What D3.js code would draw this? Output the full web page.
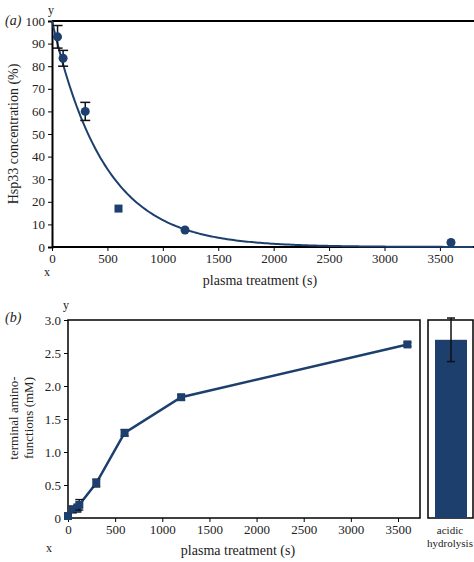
<!DOCTYPE html><html><head><script src="https://cdn.jsdelivr.net/npm/d3@7"></script>
<style>body{margin:0;background:#fff}text{font-family:"Liberation Serif",serif;fill:#222}</style></head><body>
<svg id="c" width="474" height="562"></svg>
<script>
const aX=[50,100,300,600,1200,3600];
const aY=[93,83.5,60,17,7.5,2];
const aErr=[5,3.5,4,0,0,0];
const aShape=["c","c","c","s","c","c"];
const aTicksY=[0,10,20,30,40,50,60,70,80,90,100];
const aTicksX=[0,500,1000,1500,2000,2500,3000,3500];
const bX=[0,50,100,120,300,600,1200,3600];
const bY=[0.03,0.13,0.15,0.2,0.53,1.29,1.83,2.63];
const bErr=[0.02,0.05,0.06,0.08,0.06,0.05,0.04,0.03];
const barLabel=["acidic","hydrolysis"], barVal=2.7, barErr=0.33;
const bTicksY=[0,0.5,1.0,1.5,2.0,2.5,3.0];
const tau=470;
const col="#1d3f6e";
const svg=d3.select("#c");
const ff='"Liberation Serif",serif';
const sty=g=>g.attr("font-family",ff).call(g=>g.selectAll("text").style("font-size","13px").style("fill","#222"));
// panel a
const xa=d3.scaleLinear().domain([0,3600]).range([52,451]);
const ya=d3.scaleLinear().domain([0,100]).range([247,21]);
const ga=svg.append("g");
ga.append("line").attr("x1",52).attr("x2",474).attr("y1",21).attr("y2",21).attr("stroke","#000").attr("stroke-width",2);
ga.append("g").attr("transform","translate(52,0)").call(d3.axisLeft(ya).tickValues(aTicksY).tickSize(4)).call(sty).call(g=>g.select(".domain").attr("stroke-width",2));
ga.append("g").attr("transform","translate(0,247)").call(d3.axisBottom(xa).tickValues(aTicksX).tickFormat(d3.format("d")).tickSize(4)).call(sty).call(g=>g.select(".domain").attr("d","M52,0H474").attr("stroke-width",2));
const cur=d3.range(0,3801,20).map(t=>[t,100*Math.exp(-t/tau)]);
ga.append("path").attr("d",d3.line().x(d=>xa(d[0])).y(d=>ya(d[1]))(cur)).attr("fill","none").attr("stroke",col).attr("stroke-width",2);
aX.forEach((x,i)=>{if(aErr[i]){const g=ga.append("g").attr("stroke","#111").attr("stroke-width",1.5);
g.append("line").attr("x1",xa(x)).attr("x2",xa(x)).attr("y1",ya(aY[i]+aErr[i])).attr("y2",ya(aY[i]-aErr[i]));
[1,-1].forEach(s=>g.append("line").attr("x1",xa(x)-5).attr("x2",xa(x)+5).attr("y1",ya(aY[i]+s*aErr[i])).attr("y2",ya(aY[i]+s*aErr[i])));}
if(aShape[i]=="s")ga.append("rect").attr("x",xa(x)-4).attr("y",ya(aY[i])-4).attr("width",8).attr("height",8).attr("fill",col);
else ga.append("circle").attr("cx",xa(x)).attr("cy",ya(aY[i])).attr("r",4.5).attr("fill",col);});
svg.append("text").attr("x",5).attr("y",25).style("font-size","14px").style("font-style","italic").text("(a)");
svg.append("text").attr("x",48).attr("y",14).style("font-size","12px").text("y");
svg.append("text").attr("x",44).attr("y",276).style("font-size","12px").text("x");
svg.append("text").attr("x",260).attr("y",285).attr("text-anchor","middle").style("font-size","14px").text("plasma treatment (s)");
svg.append("text").attr("transform","translate(18,134) rotate(-90)").attr("text-anchor","middle").style("font-size","14px").text("Hsp33 concentration (%)");
// panel b
const xb=d3.scaleLinear().domain([0,3500]).range([68,398]);
const yb=d3.scaleLinear().domain([0,3]).range([518,320]);
const gb=svg.append("g");
gb.append("rect").attr("x",68).attr("y",320).attr("width",352).attr("height",198).attr("fill","none").attr("stroke","#000").attr("stroke-width",1.5);
gb.append("g").attr("transform","translate(68,0)").call(d3.axisLeft(yb).tickValues(bTicksY).tickFormat(d=>d==0?"0":d3.format(".1f")(d)).tickSize(4)).call(sty).call(g=>g.select(".domain").remove());
gb.append("g").attr("transform","translate(0,518)").call(d3.axisBottom(xb).tickValues(aTicksX).tickFormat(d3.format("d")).tickSize(4)).call(sty).call(g=>g.select(".domain").remove());
gb.append("path").attr("d",d3.line().x((d,i)=>xb(bX[i])).y(d=>yb(d))(bY)).attr("fill","none").attr("stroke",col).attr("stroke-width",2.5);
bX.forEach((x,i)=>{const g=gb.append("g").attr("stroke","#111").attr("stroke-width",1.3);
g.append("line").attr("x1",xb(x)).attr("x2",xb(x)).attr("y1",yb(bY[i]+bErr[i])).attr("y2",yb(bY[i]-bErr[i]));
[1,-1].forEach(s=>g.append("line").attr("x1",xb(x)-4).attr("x2",xb(x)+4).attr("y1",yb(bY[i]+s*bErr[i])).attr("y2",yb(bY[i]+s*bErr[i])));
gb.append("rect").attr("x",xb(x)-4).attr("y",yb(bY[i])-4).attr("width",8).attr("height",8).attr("fill",col);});
gb.append("rect").attr("x",428).attr("y",320).attr("width",45).attr("height",198).attr("fill","none").attr("stroke","#000").attr("stroke-width",1.5);
gb.append("rect").attr("x",435).attr("y",yb(barVal)).attr("width",32).attr("height",518-yb(barVal)).attr("fill",col);
const ge=gb.append("g").attr("stroke","#111").attr("stroke-width",1.5);
ge.append("line").attr("x1",451).attr("x2",451).attr("y1",yb(barVal+barErr)).attr("y2",yb(barVal-barErr));
[1,-1].forEach(s=>ge.append("line").attr("x1",447).attr("x2",455).attr("y1",yb(barVal+s*barErr)).attr("y2",yb(barVal+s*barErr)));
barLabel.forEach((t,i)=>svg.append("text").attr("x",450).attr("y",534+i*13).attr("text-anchor","middle").style("font-size","11px").text(t));
svg.append("text").attr("x",5).attr("y",322).style("font-size","14px").style("font-style","italic").text("(b)");
svg.append("text").attr("x",63).attr("y",309).style("font-size","12px").text("y");
svg.append("text").attr("x",46).attr("y",552).style("font-size","12px").text("x");
svg.append("text").attr("x",238).attr("y",555).attr("text-anchor","middle").style("font-size","14px").text("plasma treatment (s)");
svg.append("text").attr("transform","translate(18,418) rotate(-90)").attr("text-anchor","middle").style("font-size","13px").text("terminal amino-");
svg.append("text").attr("transform","translate(33,418) rotate(-90)").attr("text-anchor","middle").style("font-size","13px").text("functions (mM)");
</script></body></html>
